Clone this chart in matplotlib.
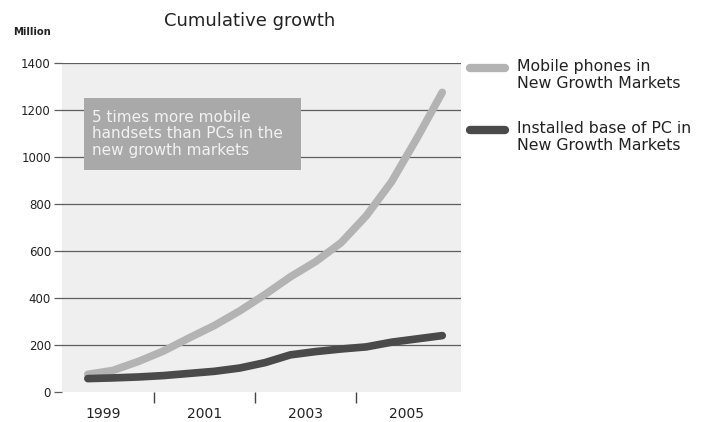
import matplotlib
matplotlib.use("Agg")
import matplotlib.pyplot as plt
from matplotlib.lines import Line2D
from matplotlib.patches import Rectangle

# Data (half-year resolution)
years = [1999.0, 1999.5, 2000.0, 2000.5, 2001.0, 2001.5, 2002.0, 2002.5,
         2003.0, 2003.5, 2004.0, 2004.5, 2005.0, 2005.5, 2006.0]
mobile = [75, 92, 130, 175, 230, 283, 345, 415, 490, 555, 635, 750, 895, 1080, 1275]
pc = [57, 60, 64, 70, 79, 88, 102, 125, 158, 172, 183, 192, 212, 226, 240]
year_labels = ["1999", "2001", "2003", "2005"]
label_years = [1999, 2001, 2003, 2005]
tick_years = [2000, 2002, 2004]
yticks = [0, 200, 400, 600, 800, 1000, 1200, 1400]
series_names = ["Mobile phones in\nNew Growth Markets",
                "Installed base of PC in\nNew Growth Markets"]
title = "Cumulative growth"
ylabel = "Million"
note = "5 times more mobile\nhandsets than PCs in the\nnew growth markets"

W, H = 707, 422
fig = plt.figure(figsize=(W / 100, H / 100), dpi=100)
fig.patch.set_facecolor("white")
ax = fig.add_axes([62 / W, 1 - 392 / H, (461 - 62) / W, (392 - 63) / H])
ax.set_facecolor("#efefef")

c_mobile = "#b3b3b3"
c_pc = "#4a4a4a"
ax.plot(years, mobile, color=c_mobile, lw=5.5, solid_capstyle="round",
        solid_joinstyle="round", zorder=3)
ax.plot(years, pc, color=c_pc, lw=5.5, solid_capstyle="round",
        solid_joinstyle="round", zorder=4)

ax.set_xlim(1998.49, 2006.37)
ax.set_ylim(0, 1400)

for s in ax.spines.values():
    s.set_visible(False)

# horizontal grid
for y in yticks[1:]:
    ax.axhline(y, color="#5e5e5e", lw=0.9, zorder=1)
ax.set_yticks(yticks)
ax.set_yticklabels([str(v) for v in yticks], fontsize=8.5, color="#222222")
ax.tick_params(axis="y", length=6, width=0.9, color="#5e5e5e", pad=2)

off = 0.3
ax.set_xticks([y + off for y in label_years])
ax.set_xticklabels(year_labels, fontsize=10, color="#222222")
ax.set_xticks([y + off for y in tick_years], minor=True)
ax.tick_params(axis="x", which="major", length=0, pad=11)
ax.tick_params(axis="x", which="minor", length=8, width=1.0, color="#444444", direction="out")

fig.text(250 / W, 1 - 21 / H, title, fontsize=13, ha="center", va="center", color="#222222")
fig.text(13 / W, 1 - 32 / H, ylabel, fontsize=7.2, ha="left", va="center",
         color="#222222", fontweight="bold")

# note box (pixel layout)
fig.patches.append(Rectangle((84 / W, 1 - 170 / H), (301 - 84) / W, (170 - 98) / H,
                             transform=fig.transFigure, fc="#a9a9a9", ec="none", zorder=5))
fig.text(92 / W, 1 - 134 / H, note, fontsize=11, color="#f2f2f2", ha="left",
         va="center", linespacing=1.13, zorder=6)

# legend (manual)
leg_y = [68, 130]
for (ly, name, col) in zip(leg_y, series_names, [c_mobile, c_pc]):
    fig.add_artist(Line2D([470 / W, 505 / W], [1 - ly / H, 1 - ly / H], color=col, lw=6,
                          solid_capstyle="round", transform=fig.transFigure))
    fig.text(517 / W, 1 - (ly - 9) / H, name, fontsize=11.3, color="#222222",
             ha="left", va="top", linespacing=1.15)

fig.savefig("out.png", dpi=100)
